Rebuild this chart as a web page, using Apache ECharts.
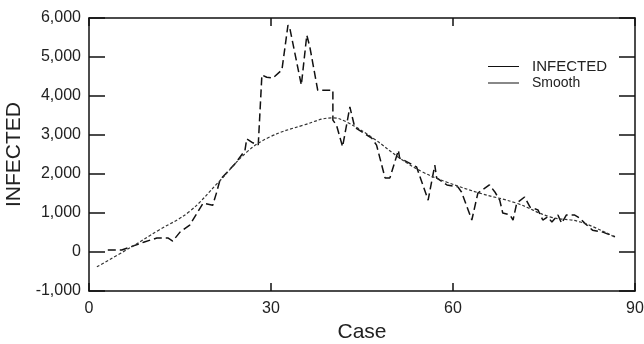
<!DOCTYPE html>
<html>
<head>
<meta charset="utf-8">
<script src="https://cdn.jsdelivr.net/npm/echarts@6/dist/echarts.min.js"></script>
<style>
    html, body { margin: 0; padding: 0; background: #fff; }
    #chart { width: 644px; height: 344px; }
</style>
</head>
<body>
<div id="chart"></div>
<script>
'use strict';

// 数据
var infectedCase = [3.1, 5.4, 6.8, 9, 11.2, 13, 13.8, 15, 16.6, 18.8, 20.4, 21, 21.6, 24, 25.7, 26, 27, 27.9, 28.5,
    29.3, 30.3, 31.8, 32.8, 33.1, 35, 35.9, 36.4, 37.7, 38.9, 40.2, 40.2, 40.8, 41.8, 43, 43.8, 46.6, 47.4,
    48.8, 49.6, 51, 51.2, 54, 55.9, 57, 57.3, 59, 60.8, 61.4, 63.1, 64.1, 66, 66.9, 67.7, 68.2, 69.4, 69.9,
    70.5, 71.8, 72.7, 74, 74.8, 75.6, 76.3, 77.3, 77.9, 78.7, 80, 80.9, 81.7, 83, 84.7, 86.7];
var infectedValue = [50, 50, 130, 250, 360, 360, 280, 510, 690, 1250, 1200, 1510, 1850, 2250, 2600, 2900, 2800, 2750, 4540,
    4480, 4460, 4670, 5820, 5740, 4280, 5560, 5260, 4150, 4150, 4150, 3380, 3250, 2700, 3720, 3200, 2920, 2740,
    1900, 1900, 2610, 2410, 2180, 1330, 2230, 1900, 1720, 1670, 1540, 820, 1510, 1720, 1540, 1330, 1000, 950, 820,
    1250, 1410, 1150, 1080, 820, 900, 770, 950, 740, 950, 950, 870, 740, 560, 510, 390];

var smoothCase = [1.3, 7, 11.5, 16.5, 21.4, 26, 29.8, 35.3, 40.2, 42.5, 47, 51.2, 55, 59, 64.4, 70.5, 76, 81, 86.7];
var smoothValue = [-380, 130, 560, 1030, 1800, 2560, 2950, 3250, 3440, 3330, 2900, 2410, 2050, 1790, 1510, 1250, 900, 770, 380];

var xTicks = [0, 30, 60, 90];
var yMin = -1000, yMax = 6000, yStep = 1000;

function pairs(xs, ys) {
    return xs.map(function(x, i) { return [x, ys[i]]; });
}

function fmt(v) {
    var s = String(Math.abs(v)).replace(/\B(?=(\d{3})+(?!\d))/g, ',');
    return (v < 0 ? '-' : '') + s;
}

var lineColor = '#111';
var textColor = '#222';
var font = 'Liberation Sans, Arial, sans-serif';

var myChart = echarts.init(document.getElementById('chart'));

var frameX = {
    type: 'value',
    min: xTicks[0],
    max: xTicks[xTicks.length - 1],
    interval: 30,
    axisLine: { show: true, onZero: false, lineStyle: { color: lineColor, width: 1.5 } },
    axisTick: { show: true, inside: true, length: 8, lineStyle: { color: lineColor, width: 1.5 } },
    splitLine: { show: false }
};
var frameY = {
    type: 'value',
    min: yMin,
    max: yMax,
    interval: yStep,
    axisLine: { show: true, onZero: false, lineStyle: { color: lineColor, width: 1.5 } },
    axisTick: { show: true, inside: true, length: 16, lineStyle: { color: lineColor, width: 1.5 } },
    splitLine: { show: false }
};

var option = {
    animation: false,
    backgroundColor: '#fff',
    grid: { left: 89, right: 9, top: 18, bottom: 53, containLabel: false, outerBoundsMode: 'none' },
    legend: {
        left: 483,
        top: 54,
        orient: 'vertical',
        icon: 'rect',
        itemWidth: 31,
        itemHeight: 1,
        itemGap: 2,
        textStyle: { color: textColor, fontFamily: font, fontSize: 14, padding: [0, 0, 0, 8] },
        data: [
            { name: 'INFECTED', textStyle: { fontSize: 15 } },
            { name: 'Smooth' }
        ]
    },
    xAxis: [
        Object.assign({}, frameX, {
            position: 'bottom',
            name: 'Case',
            nameLocation: 'middle',
            nameGap: 30,
            nameTextStyle: { color: textColor, fontFamily: font, fontSize: 21 },
            axisLabel: { color: textColor, fontFamily: font, fontSize: 16, margin: 10 }
        }),
        Object.assign({}, frameX, { position: 'top', axisLabel: { show: false } })
    ],
    yAxis: [
        Object.assign({}, frameY, {
            position: 'left',
            name: 'INFECTED',
            nameLocation: 'middle',
            nameGap: 55,
            nameTextStyle: { color: textColor, fontFamily: font, fontSize: 21 },
            axisLabel: { color: textColor, fontFamily: font, fontSize: 16, margin: 8, formatter: fmt }
        }),
        Object.assign({}, frameY, { position: 'right', axisLabel: { show: false } })
    ],
    series: [
        {
            name: 'INFECTED',
            type: 'line',
            showSymbol: false,
            itemStyle: { color: lineColor },
            lineStyle: { color: lineColor, width: 1.5, type: [8, 4] },
            data: pairs(infectedCase, infectedValue)
        },
        {
            name: 'Smooth',
            type: 'line',
            smooth: 0.4,
            showSymbol: false,
            itemStyle: { color: lineColor },
            lineStyle: { color: '#333', width: 1.2, type: [3, 2] },
            data: pairs(smoothCase, smoothValue)
        }
    ]
};

myChart.setOption(option);
</script>
</body>
</html>
